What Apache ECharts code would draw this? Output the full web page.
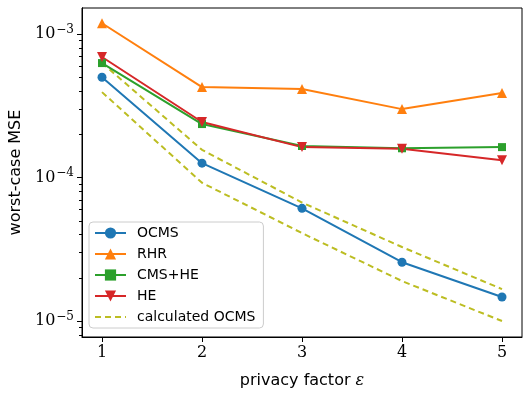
<!DOCTYPE html>
<html>
<head>
<meta charset="utf-8">
<script src="https://cdn.jsdelivr.net/npm/echarts@6/dist/echarts.min.js"></script>
<style>
  html, body { margin: 0; padding: 0; background: #fff; }
  #chart { width: 531px; height: 399px; }
</style>
</head>
<body>
<div id="chart"></div>
<script>
// privacy factor (x)
var epsilons = [1, 2, 3, 4, 5];

// worst-case MSE per method
var ocms = [5.0e-4, 1.26e-4, 6.1e-5, 2.57e-5, 1.47e-5];
var rhr = [1.19e-3, 4.27e-4, 4.14e-4, 3.0e-4, 3.88e-4];
var cmsHe = [6.28e-4, 2.36e-4, 1.66e-4, 1.6e-4, 1.63e-4];
var he = [6.92e-4, 2.44e-4, 1.63e-4, 1.59e-4, 1.32e-4];
// calculated OCMS bounds (upper / lower)
var calcUpper = [6.3e-4, 1.56e-4, 6.7e-5, 3.28e-5, 1.67e-5];
var calcLower = [3.94e-4, 9.2e-5, 4.1e-5, 1.9e-5, 1.0e-5];

// y ticks
var majorTicks = [1e-5, 1e-4, 1e-3];
var minorTicks = [8e-6, 9e-6,
  2e-5, 3e-5, 4e-5, 5e-5, 6e-5, 7e-5, 8e-5, 9e-5,
  2e-4, 3e-4, 4e-4, 5e-4, 6e-4, 7e-4, 8e-4, 9e-4];

var yMin = 7.74e-6, yMax = 1.52e-3;

function pairs(ys) {
  return ys.map(function (v, i) { return [epsilons[i], v]; });
}

var serifFont = '"DejaVu Serif", "Liberation Serif", serif';
var sansFont = '"DejaVu Sans", sans-serif';

function lineSeries(name, data, color, symbol, rotate) {
  return {
    name: name,
    type: 'line',
    data: pairs(data),
    symbol: symbol,
    symbolSize: symbol === 'rect' ? 8 : (symbol === 'circle' ? 9 : 10),
    symbolRotate: rotate || 0,
    showSymbol: true,
    lineStyle: { color: color, width: 2 },
    itemStyle: { color: color },
    emphasis: { disabled: true },
    z: 3
  };
}

function dashed(data, axisIdx) {
  return {
    name: 'calculated OCMS',
    type: 'line',
    yAxisIndex: axisIdx,
    data: pairs(data),
    symbol: 'none',
    lineStyle: { color: '#bcbd22', width: 2, type: [6, 4] },
    itemStyle: { color: '#bcbd22' },
    emphasis: { disabled: true },
    z: 2
  };
}

var chart = echarts.init(document.getElementById('chart'));
chart.setOption({
  animation: false,
  grid: {
    left: 82, right: 9, top: 8, bottom: 62,
    show: true, borderColor: '#000', borderWidth: 1, backgroundColor: 'transparent'
  },
  legend: {
    left: 89, top: 222,
    orient: 'vertical',
    itemWidth: 31, itemHeight: 14, itemGap: 7,
    padding: [4, 8, 4, 5],
    backgroundColor: 'rgba(255,255,255,0.8)',
    borderColor: '#cccccc', borderWidth: 1, borderRadius: 4,
    textStyle: { fontFamily: sansFont, fontSize: 14, color: '#000', padding: [0, 0, 0, 6] },
    data: ['OCMS', 'RHR', 'CMS+HE', 'HE',
      { name: 'calculated OCMS', itemStyle: { opacity: 0 } }]
  },
  xAxis: {
    type: 'value',
    min: 0.8, max: 5.2,
    name: 'privacy factor {e|ε}',
    nameLocation: 'middle',
    nameGap: 36,
    nameTextStyle: {
      fontFamily: sansFont, fontSize: 16, color: '#000',
      rich: { e: { fontFamily: serifFont, fontStyle: 'italic', fontSize: 16, color: '#000' } }
    },
    axisLine: { show: true, lineStyle: { color: '#000', width: 1 } },
    axisTick: { show: true, customValues: epsilons, length: 5, lineStyle: { color: '#000' } },
    axisLabel: {
      customValues: epsilons, margin: 8,
      fontFamily: serifFont, fontSize: 16, color: '#000'
    },
    splitLine: { show: false }
  },
  yAxis: [{
    type: 'log',
    min: yMin, max: yMax,
    name: 'worst-case MSE',
    nameLocation: 'middle',
    nameGap: 46,
    nameTextStyle: { fontFamily: sansFont, fontSize: 16, color: '#000' },
    axisLine: { show: true, lineStyle: { color: '#000', width: 1 } },
    axisTick: { show: true, customValues: majorTicks, length: 5, lineStyle: { color: '#000' } },
    axisLabel: {
      customValues: majorTicks, margin: 8,
      formatter: function (v) {
        var exp = Math.round(Math.log10(v));
        return '{b|10}{s|−' + (-exp) + '}';
      },
      rich: {
        b: { fontFamily: serifFont, fontSize: 16, color: '#000' },
        s: { fontFamily: serifFont, fontSize: 12, color: '#000', padding: [0, 0, 9, 1] }
      }
    },
    splitLine: { show: false }
  }, {
    // minor ticks, same scale as the main axis
    type: 'log',
    min: yMin, max: yMax,
    position: 'left',
    offset: 0,
    axisLine: { show: true, lineStyle: { color: '#000', width: 1 } },
    axisTick: { show: true, customValues: minorTicks, length: 3, lineStyle: { color: '#000' } },
    axisLabel: { show: false },
    splitLine: { show: false }
  }],
  series: [
    lineSeries('OCMS', ocms, '#1f77b4', 'circle'),
    lineSeries('RHR', rhr, '#ff7f0e', 'triangle'),
    lineSeries('CMS+HE', cmsHe, '#2ca02c', 'rect'),
    lineSeries('HE', he, '#d62728', 'triangle', 180),
    dashed(calcUpper, 0),
    dashed(calcLower, 1)
  ]
});
</script>
</body>
</html>
